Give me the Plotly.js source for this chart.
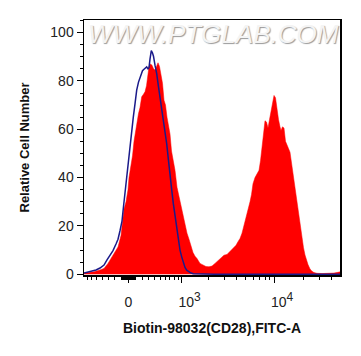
<!DOCTYPE html>
<html>
<head>
<meta charset="utf-8">
<script src="https://cdn.plot.ly/plotly-3.0.1.min.js"></script>
<style>html,body{margin:0;padding:0;background:#fff;}#chart{width:361px;height:356px;}</style>
</head>
<body>
<div id="chart"></div>
<script>
// Histogram channels (display units on the biexponential scale, 0..256)
const redChannel = [0,6,10,16,20,24,27,30,32,34,37,39,40,42,44,45,47,48.5,50,51,53,54.5,56,57.7,59.5,61,62.5,63.5,65,66.5,68,69.5,71,72.5,74,75.5,77,78.5,80,81.5,83,84.5,86,87.5,89,91,93,95,97,99,101,103,105,107,109,111,113,116,119,122,125,128,131,134,137,140,143,146,149,152,154,156,158,160,162,164,166,167.5,169,171,173,175,176.5,178,179.5,181,182.5,184,185.5,187,188.5,190,191.5,193,194.5,196,197,198.5,200,201.5,203,204.5,206,207.5,209,210.5,212,213.5,215,216.5,218,219.5,221,222.5,224,226,228,230,233,238,244,250,254,256];
const redCount = [0.5,0.8,1.0,1.8,2.4,4.5,6.6,8.5,10,11.3,16,23,27,30,35,40,45,49,55,58,62,66.5,69,73.4,74.5,75.5,78,81,86,87,86.5,85,84.5,86,87.5,86,82,79,72,70,65,61,58,51,48,43,36,32,29,24,20,17,14.5,12,9,7.5,6.5,4.5,3.7,3.2,3.1,3.4,4.5,5.5,6.8,7.9,8.2,9.5,10.6,12,13.5,14.8,17,20,23.5,27,30,33,37.5,40,41.5,43,47,53,60,63.5,63,60.5,64,68,72,74,73,68,64,61,59.5,61,60.5,55,53,52,50.5,46,41,37,33,28,23.5,19,14.5,11,8,5.5,4,2.2,1.2,0.7,0.4,0.3,0.3,0.5,0.8,1.0];

const blueChannel = [0,4,8,12,16,20,23,26,29,32,34,36,38,39.5,41,42.7,44,46,47.5,49.3,51,52.7,54.5,56.5,58.5,60,61.5,62.7,64,65,66,67.3,68.5,69.5,71,72.7,74.5,76,77.5,79.3,81,82.7,84.5,86,87.7,89.3,91,92.7,94.5,96,97.7,99.5,101,102.7,105,107,109.3,116,130,180,256];
const blueCount = [0.5,0.9,1.3,1.8,2.6,3.8,6,8,9.8,12.5,14.5,18,22,28,34,40.5,46,54,60,65,70.5,76.2,79.5,82.4,84.2,84.8,85.5,85.8,85,85.5,89,92.5,91.5,90.2,86.5,83,77.5,73.4,70,65,59.5,54,47,40.3,35,29.3,24,18.2,13.5,10,7.2,4.5,2.8,1.7,0.9,0.5,0.2,0.1,0.05,0.05,0.05];

// Axis labels
const xMajorValues = [0, 1000, 10000];
const xMajorText = ['0', '\u00a0\u00a0\u00a0\u00a010<sup><span style="font-size:12px">3</span></sup>', '\u00a0\u00a0\u00a0\u00a010<sup><span style="font-size:12px">4</span></sup>'];
const xMinorValues = [-700,-600,-500,-400,-300,-200,-100,-90,-80,-70,-60,-50,-40,-30,-20,-10,10,20,30,40,50,60,70,80,90,100,200,300,400,500,600,700,800,900,2000,3000,4000,5000,6000,7000,8000,9000,20000,30000,40000];
const yTickValues = [0,20,40,60,80,100];
const yTickText = ['0','20','40','60','80','100'];

// biexponential-like display transform: value -> channel
function toChannel(v){ return 44.5 + 41.57 * Math.asinh(v / 600); }

const FONT = 'Liberation Sans, Arial, sans-serif';

const traces = [
  {x: redChannel, y: redCount, type: 'scatter', mode: 'lines', fill: 'tozeroy',
   fillcolor: '#ff0000', line: {color: '#ff0000', width: 0.5}, hoverinfo: 'skip'},
  {x: blueChannel, y: blueCount, type: 'scatter', mode: 'lines',
   line: {color: '#1a1a8a', width: 1.5}, hoverinfo: 'skip'}
];

const layout = {
  width: 361, height: 356,
  margin: {l: 84, r: 21, t: 20, b: 81},
  paper_bgcolor: '#ffffff', plot_bgcolor: '#ffffff',
  showlegend: false,
  font: {family: FONT, color: '#222'},
  xaxis: {
    range: [0, 256], tickmode: 'array',
    tickvals: xMajorValues.map(toChannel), ticktext: xMajorText,
    ticks: 'outside', ticklen: 6, tickwidth: 1, tickcolor: '#000',
    ticklabelstandoff: 8,
    minor: {tickmode: 'array', tickvals: xMinorValues.map(toChannel), ticks: 'outside', ticklen: 3, tickwidth: 1, tickcolor: '#000', showgrid: false},
    showline: true, linecolor: '#000', linewidth: 1.5, mirror: true,
    showgrid: false, zeroline: false, automargin: false,
    tickfont: {family: FONT, size: 14, color: '#222'},
    title: {text: '<b>Biotin-98032(CD28),FITC-A</b>', font: {family: FONT, size: 14, color: '#111'}, standoff: 14}
  },
  yaxis: {
    range: [-0.3, 105.2], tickmode: 'array', tickvals: yTickValues, ticktext: yTickText,
    ticks: 'outside', ticklen: 6, tickwidth: 1, tickcolor: '#000',
    minor: {dtick: 5, tick0: 0, ticks: 'outside', ticklen: 3, tickwidth: 1, tickcolor: '#000', showgrid: false},
    showline: true, linecolor: '#000', linewidth: 1.5, mirror: true,
    showgrid: false, zeroline: false, automargin: false,
    tickfont: {family: FONT, size: 14, color: '#222'},
    title: {text: '<b>Relative Cell Number</b>', font: {family: FONT, size: 13, color: '#111'}, standoff: 18}
  },
  annotations: [{
    text: 'WWW.PTGLAB.COM', xref: 'paper', yref: 'paper', x: 0.505, y: 0.945,
    xanchor: 'center', yanchor: 'middle', showarrow: false,
    font: {family: FONT, size: 26, color: '#f4f4f4', style: 'italic', shadow: '1px 1px 1px #9a9a9a'}
  }]
};

Plotly.newPlot('chart', traces, layout, {displayModeBar: false, staticPlot: true});
</script>
</body>
</html>
